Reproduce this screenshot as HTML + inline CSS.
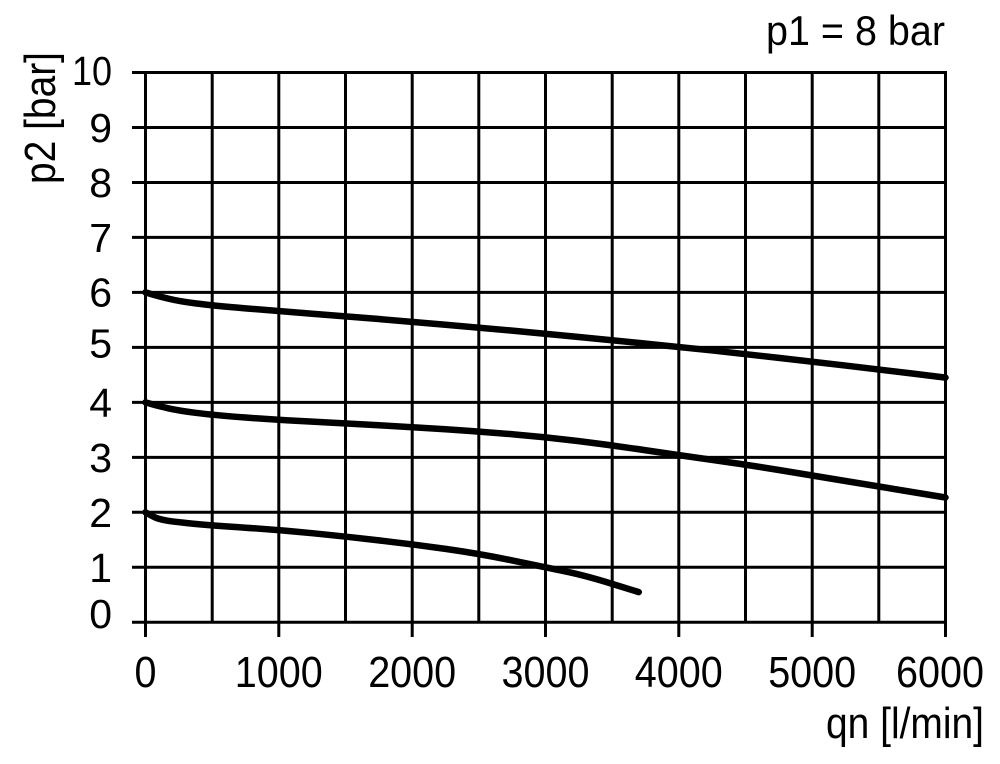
<!DOCTYPE html>
<html>
<head>
<meta charset="utf-8">
<style>
  html, body { margin: 0; padding: 0; background: #fff; }
  svg { display: block; }
  text { font-family: "Liberation Sans", Arial, sans-serif; fill: #000; }
</style>
</head>
<body>
<svg width="1000" height="764" viewBox="0 0 1000 764" xmlns="http://www.w3.org/2000/svg">
  <rect width="1000" height="764" fill="#fff"/>
  <g stroke="#000" stroke-width="3" fill="none">
    <line x1="132" y1="72.5" x2="947" y2="72.5"/>
    <line x1="132" y1="127.5" x2="947" y2="127.5"/>
    <line x1="132" y1="182.5" x2="947" y2="182.5"/>
    <line x1="132" y1="237.4" x2="947" y2="237.4"/>
    <line x1="132" y1="292.4" x2="947" y2="292.4"/>
    <line x1="132" y1="347.4" x2="947" y2="347.4"/>
    <line x1="132" y1="402.4" x2="947" y2="402.4"/>
    <line x1="132" y1="457.4" x2="947" y2="457.4"/>
    <line x1="132" y1="512.3" x2="947" y2="512.3"/>
    <line x1="132" y1="567.3" x2="947" y2="567.3"/>
    <line x1="132" y1="622.3" x2="947" y2="622.3"/>
    <line x1="145.5" y1="71" x2="145.5" y2="637"/>
    <line x1="212.2" y1="71" x2="212.2" y2="622.3"/>
    <line x1="278.8" y1="71" x2="278.8" y2="637"/>
    <line x1="345.5" y1="71" x2="345.5" y2="622.3"/>
    <line x1="412.2" y1="71" x2="412.2" y2="637"/>
    <line x1="478.8" y1="71" x2="478.8" y2="622.3"/>
    <line x1="545.5" y1="71" x2="545.5" y2="637"/>
    <line x1="612.2" y1="71" x2="612.2" y2="622.3"/>
    <line x1="678.8" y1="71" x2="678.8" y2="637"/>
    <line x1="745.5" y1="71" x2="745.5" y2="622.3"/>
    <line x1="812.2" y1="71" x2="812.2" y2="637"/>
    <line x1="878.8" y1="71" x2="878.8" y2="622.3"/>
    <line x1="945.5" y1="71" x2="945.5" y2="637"/>
  </g>

  <g stroke="#000" stroke-width="6.5" fill="none" stroke-linecap="round" stroke-linejoin="round">
    <path d="M145.5,292.4 L152.15,294.35 Q158.8,296.3 168.8,298.75 Q178.8,301.2 195.5,303.4 Q212.2,305.6 245.5,308.35 Q278.8,311.1 312.15,313.7 Q345.5,316.3 378.85,319.05 Q412.2,321.8 445.5,324.7 Q478.8,327.6 512.15,330.65 Q545.5,333.7 578.85,337.0 Q612.2,340.3 645.5,343.6 Q678.8,346.9 712.15,350.45 Q745.5,354.0 778.85,357.85 Q812.2,361.7 845.5,365.55 Q878.8,369.4 912.15,373.5 L945.5,377.6"/>
    <path d="M145.5,402.4 L152.15,404.3 Q158.8,406.2 168.8,408.4 Q178.8,410.6 195.5,412.8 Q212.2,415.0 245.5,417.5 Q278.8,420.0 312.15,421.65 Q345.5,423.3 378.85,425.2 Q412.2,427.1 445.5,429.3 Q478.8,431.5 512.15,434.25 Q545.5,437.0 578.85,441.15 Q612.2,445.3 645.5,450.25 Q678.8,455.2 712.15,459.85 Q745.5,464.5 778.85,470.0 Q812.2,475.5 845.5,481.0 Q878.8,486.5 912.15,492.0 L945.5,497.5"/>
    <path d="M145.5,512.3 L148.85,514.25 Q152.2,516.2 155.5,517.6 Q158.8,519.0 165.5,520.35 Q172.2,521.7 192.2,523.6 Q212.2,525.5 245.5,527.7 Q278.8,529.9 312.15,533.2 Q345.5,536.5 378.85,540.35 Q412.2,544.2 445.5,548.9 Q478.8,553.6 512.15,560.45 Q545.5,567.3 565.5,571.45 Q585.5,575.6 612.15,583.85 L638.8,592.1"/>
  </g>

  <g font-size="41" text-anchor="end">
    <text x="112" y="85" textLength="40" lengthAdjust="spacingAndGlyphs">10</text>
    <text x="112" y="142">9</text>
    <text x="112" y="197">8</text>
    <text x="112" y="252">7</text>
    <text x="112" y="306.5">6</text>
    <text x="112" y="357.5">5</text>
    <text x="112" y="417">4</text>
    <text x="112" y="472">3</text>
    <text x="112" y="527">2</text>
    <text x="112" y="582">1</text>
    <text x="112" y="628">0</text>
  </g>

  <g font-size="44" text-anchor="middle">
    <text x="145.5" y="687" textLength="22" lengthAdjust="spacingAndGlyphs">0</text>
    <text x="278.8" y="687" textLength="88" lengthAdjust="spacingAndGlyphs">1000</text>
    <text x="412.2" y="687" textLength="88" lengthAdjust="spacingAndGlyphs">2000</text>
    <text x="545.5" y="687" textLength="88" lengthAdjust="spacingAndGlyphs">3000</text>
    <text x="678.8" y="687" textLength="88" lengthAdjust="spacingAndGlyphs">4000</text>
    <text x="812.2" y="687" textLength="88" lengthAdjust="spacingAndGlyphs">5000</text>
    <text x="940" y="687" textLength="88" lengthAdjust="spacingAndGlyphs">6000</text>
  </g>

  <text x="826" y="738" font-size="44" textLength="158" lengthAdjust="spacingAndGlyphs">qn [l/min]</text>
  <text x="766" y="45" font-size="42" textLength="179" lengthAdjust="spacingAndGlyphs">p1 = 8 bar</text>
  <text transform="translate(55,184) rotate(-90)" font-size="44" textLength="132" lengthAdjust="spacingAndGlyphs">p2 [bar]</text>
</svg>
</body>
</html>
